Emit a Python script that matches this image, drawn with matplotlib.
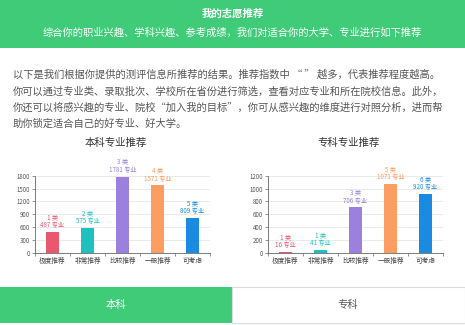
import matplotlib
matplotlib.use("Agg")
import matplotlib.pyplot as plt
from matplotlib.patches import Rectangle

plt.rcParams['font.family'] = ['Noto Sans CJK SC', 'DejaVu Sans']

W, H = 465, 325

header_title = "我的志愿推荐"
header_sub = "综合你的职业兴趣、学科兴趣、参考成绩，我们对适合你的大学、专业进行如下推荐"
para_lines = [
    "以下是我们根据你提供的测评信息所推荐的结果。推荐指数中 “ ” 越多，代表推荐程度越高。",
    "你可以通过专业类、录取批次、学校所在省份进行筛选，查看对应专业和所在院校信息。此外，",
    "你还可以将感兴趣的专业、院校“加入我的目标”，你可从感兴趣的维度进行对照分析，进而帮",
    "助你锁定适合自己的好专业、好大学。",
]

categories = ["极度推荐", "非常推荐", "比较推荐", "一般推荐", "可考虑"]
colors = ["#e9586c", "#1fc1bf", "#9b80dd", "#fc9d62", "#1b8be2"]

bk_title = "本科专业推荐"
bk_values = [487, 575, 1781, 1571, 809]
bk_classes = [1, 2, 3, 4, 5]
bk_ticks = [0, 300, 600, 900, 1200, 1500, 1800]

zk_title = "专科专业推荐"
zk_values = [16, 41, 706, 1071, 920]
zk_classes = [1, 1, 3, 5, 6]
zk_ticks = [0, 200, 400, 600, 800, 1000, 1200]

tabs = ["本科", "专科"]

GREEN = "#40cb78"

fig = plt.figure(figsize=(W / 100, H / 100), dpi=100)
fig.patch.set_facecolor("white")


def fx(x):
    return x / W


def fy(y):
    return 1 - y / H


# header band
fig.add_artist(Rectangle((0, fy(48)), 1, 48 / H, transform=fig.transFigure,
                         facecolor=GREEN, edgecolor="none", zorder=0))
fig.text(0.5, fy(14), header_title, color="white", fontsize=7.5, fontweight="bold",
         ha="center", va="center")
fig.text(0.5, fy(33), header_sub, color="white", fontsize=7.4,
         ha="center", va="center")

# paragraph
for i, line in enumerate(para_lines):
    fig.text(fx(13), fy(75 + i * 16.3), line, color="#555555", fontsize=7.4,
             ha="left", va="center")


def draw_chart(left, right, title, values, classes, ticks):
    top, bottom = 175.7, 252.7
    ax = fig.add_axes([fx(left), fy(bottom), (right - left) / W, (bottom - top) / H])
    x = list(range(len(values)))
    ax.bar(x, values, width=0.37, color=colors, zorder=3)
    ax.set_xlim(-0.5, len(values) - 0.5)
    ax.set_ylim(ticks[0], ticks[-1])
    ax.set_yticks(ticks)
    ax.set_yticklabels([str(t) for t in ticks], fontsize=4.4, color="#555555")
    ax.set_xticks(x)
    ax.set_xticklabels(categories, fontsize=4.8, color="#444444")
    ax.set_xticks([i + 0.5 for i in range(-1, len(values))], minor=True)
    ax.tick_params(axis="x", which="major", length=0, pad=3)
    ax.tick_params(axis="x", which="minor", length=2.5, width=0.5, color="#666666")
    ax.tick_params(axis="y", length=2, width=0.5, color="#666666", pad=1.5)
    ax.yaxis.grid(True, color="#e6e6e6", linewidth=0.6, zorder=0)
    for s in ["top", "right"]:
        ax.spines[s].set_visible(False)
    for s in ["left", "bottom"]:
        ax.spines[s].set_color("#666666")
        ax.spines[s].set_linewidth(0.6)
    for i, (v, c) in enumerate(zip(values, classes)):
        ax.annotate(f"{c} 类\n{v} 专业", (i, v), xytext=(0, 2), textcoords="offset points",
                    ha="center", va="bottom", fontsize=4.5, color=colors[i],
                    linespacing=1.0, zorder=4)
    fig.text(fx((left + right) / 2 - 7), fy(143), title, fontsize=7.5, color="#333333",
             ha="center", va="center")
    return ax


draw_chart(35, 210, bk_title, bk_values, bk_classes, bk_ticks)
draw_chart(268, 443, zk_title, zk_values, zk_classes, zk_ticks)

# bottom tabs
fig.add_artist(Rectangle((0, fy(323)), fx(232), 36 / H, transform=fig.transFigure,
                         facecolor=GREEN, edgecolor="none"))
fig.add_artist(Rectangle((fx(232), fy(323)), fx(232.5), 36 / H, transform=fig.transFigure,
                         facecolor="white", edgecolor="#dddddd", linewidth=0.8))
fig.text(fx(116), fy(305), tabs[0], color="white", fontsize=7.5, ha="center", va="center")
fig.text(fx(348), fy(305), tabs[1], color="#555555", fontsize=7.5, ha="center", va="center")

fig.savefig("out.png", dpi=100)
